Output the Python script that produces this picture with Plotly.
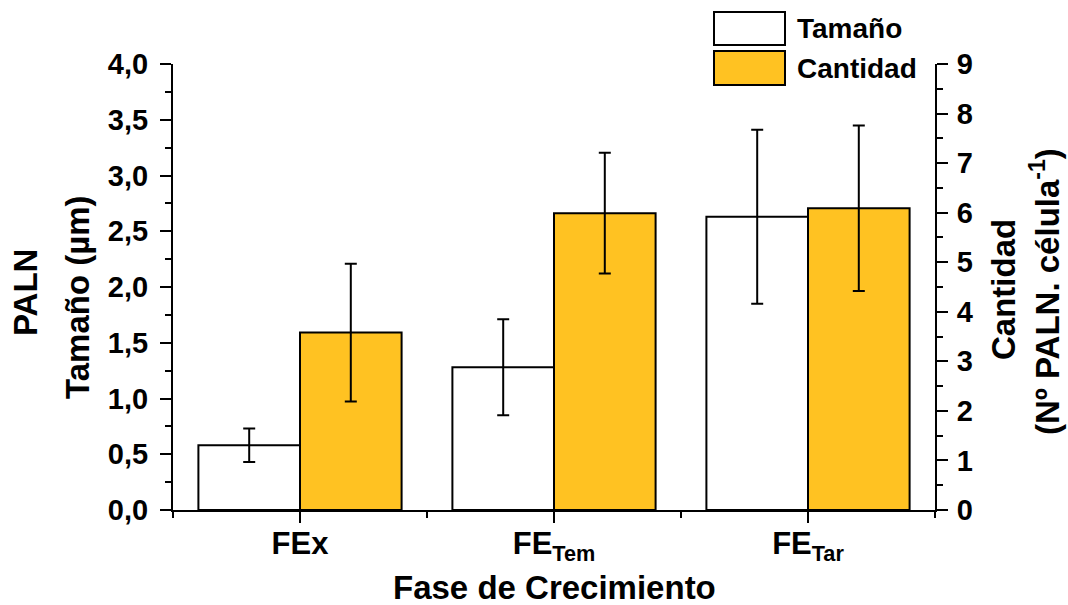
import plotly.graph_objects as go

# Growth phases (category positions 0, 1, 2 on a numeric axis)
phases = ["FEx", "FE<sub>Tem</sub>", "FE<sub>Tar</sub>"]
phase_pos = [0, 1, 2]

# PALN size (µm) with standard deviation — left axis
tamano = [0.58, 1.28, 2.63]
tamano_err = [0.15, 0.43, 0.78]

# PALN count per cell with standard deviation — right axis
cantidad = [3.58, 5.99, 6.09]
cantidad_err = [1.39, 1.22, 1.67]

left_ticks = [0, 0.5, 1.0, 1.5, 2.0, 2.5, 3.0, 3.5, 4.0]
right_ticks = list(range(0, 10))

FONT = "Liberation Sans, Arial, sans-serif"
ORANGE = "#FFC222"
W, H = 1068, 605
L, R, T, B = 173, 133, 64, 95
PW, PH = W - L - R, H - T - B


def px_x(p):
    return (p - L) / PW


def px_y(p):
    return (H - B - p) / PH


fig = go.Figure()

err_style = dict(type="data", color="black", thickness=2, width=6)

fig.add_trace(go.Bar(
    x=phase_pos, y=tamano, name="Tamaño",
    width=0.4, offset=-0.4,
    marker=dict(color="white", line=dict(color="black", width=2)),
    error_y=dict(array=tamano_err, **err_style),
    yaxis="y", showlegend=False,
))

fig.add_trace(go.Bar(
    x=phase_pos, y=cantidad, name="Cantidad",
    width=0.4, offset=0,
    marker=dict(color=ORANGE, line=dict(color="black", width=2)),
    error_y=dict(array=cantidad_err, **err_style),
    yaxis="y2", showlegend=False,
))

axis_common = dict(
    showgrid=False, zeroline=False,
    showline=True, linecolor="black", linewidth=2,
    ticks="outside", ticklen=11, tickwidth=2, tickcolor="black",
    tickfont=dict(family=FONT, size=29, color="black", weight="bold"),
)

fig.update_layout(
    width=W, height=H,
    margin=dict(l=L, r=R, t=T, b=B, pad=0),
    paper_bgcolor="white", plot_bgcolor="white",
    separators=", ",
    barmode="overlay",
    xaxis=dict(
        range=[-0.5, 2.5],
        tickvals=phase_pos, ticktext=phases,
        minor=dict(tickvals=[-0.5, 0.5, 1.5, 2.5], ticks="outside",
                   ticklen=6, tickwidth=2, tickcolor="black"),
        ticklabelstandoff=-6,
        **{**axis_common,
           "tickfont": dict(family=FONT, size=31, color="black", weight="bold")},
    ),
    yaxis=dict(
        range=[0, 4.0], tickvals=left_ticks, tickformat=".1f",
        minor=dict(dtick=0.25, ticks="outside", ticklen=6,
                   tickwidth=2, tickcolor="black"),
        ticklabelstandoff=6,
        **axis_common,
    ),
    yaxis2=dict(
        range=[0, 9], tickvals=right_ticks,
        overlaying="y", side="right", anchor="x",
        minor=dict(dtick=0.5, ticks="outside", ticklen=6,
                   tickwidth=2, tickcolor="black"),
        ticklabelstandoff=3,
        **axis_common,
    ),
)

title_font = dict(family=FONT, size=33, color="black", weight="bold")

annotations = [
    dict(text="PALN", x=px_x(25), y=px_y(293), textangle=-90),
    dict(text="Tamaño (µm)", x=px_x(77), y=px_y(297), textangle=-90),
    dict(text="Cantidad", x=px_x(1003), y=px_y(289), textangle=-90),
    dict(text="(Nº PALN. célula<sup>-1</sup>)", x=px_x(1045), y=px_y(292), textangle=-90),
]
for a in annotations:
    fig.add_annotation(xref="paper", yref="paper", showarrow=False,
                       xanchor="center", yanchor="middle",
                       font=title_font, **a)

# X-axis title near the bottom edge of the figure
fig.add_annotation(xref="paper", yref="paper", showarrow=False,
                   x=px_x(554), y=0, yshift=-98,
                   xanchor="center", yanchor="bottom",
                   text="Fase de Crecimiento", font=title_font)

# Legend: two large swatches with labels
legend_items = [("Tamaño", "white", 12, 45), ("Cantidad", ORANGE, 51, 85)]
for label, color, top, bottom in legend_items:
    fig.add_shape(type="rect", xref="paper", yref="paper",
                  x0=px_x(714), x1=px_x(785), y0=px_y(bottom), y1=px_y(top),
                  fillcolor=color, line=dict(color="black", width=2), layer="above")
    fig.add_annotation(xref="paper", yref="paper", showarrow=False,
                       x=px_x(795), y=px_y((top + bottom) / 2),
                       xanchor="left", yanchor="middle", text=label,
                       font=dict(family=FONT, size=28, color="black", weight="bold"))

fig.write_html("out.html")
